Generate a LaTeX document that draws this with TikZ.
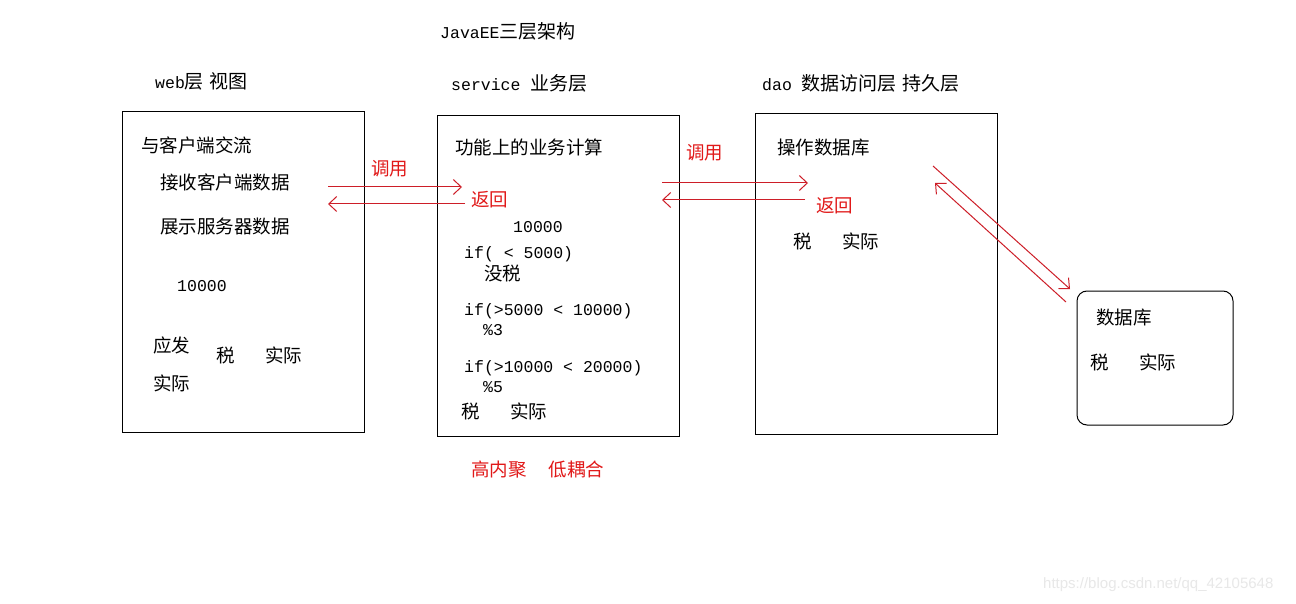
\documentclass[tikz,border=0pt]{standalone}
\usepackage{fontspec}
\setmainfont{Noto Sans CJK SC}
\newfontfamily\monofam{Liberation Mono}
\newfontfamily\wmfont{Liberation Sans}
\usetikzlibrary{arrows.meta}
\definecolor{redline}{RGB}{205,30,40}
\definecolor{redtext}{RGB}{225,25,25}
\definecolor{wmgray}{RGB}{232,232,232}
\tikzset{
  layerbox/.style={draw=black,line width=1pt,minimum width=242pt,minimum height=320pt,inner sep=0pt},
  dbbox/.style={draw=black,line width=1pt,rounded corners=10pt,minimum width=156pt,minimum height=134pt,inner sep=0pt},
  txt/.style={anchor=west,inner sep=0pt,font=\fontsize{18.5}{20}\selectfont},
  htxt/.style={anchor=west,inner sep=0pt,font=\fontsize{19}{20}\selectfont},
  mtxt/.style={anchor=west,inner sep=0pt,font=\fontsize{16.5}{20}\selectfont\monofam},
  rtxt/.style={txt,text=redtext},
  redarrow/.style={draw=redline,line width=1pt,-{Straight Barb[length=8pt,width=15pt,line width=1pt]}}
}
\begin{document}
\begin{tikzpicture}[x=1pt,y=-1pt]
\useasboundingbox[fill=white] (0,0) rectangle (1296,604);

% boxes
\node[layerbox] (web) at (243,272) {};
\node[layerbox] (svc) at (558,276) {};
\node[layerbox] (dao) at (876,274) {};
\node[dbbox] (db) at (1155,358) {};

% headings
\node[htxt] (title) at (440,31) {{\monofam\fontsize{16.5}{20}\selectfont JavaEE}三层架构};
\node[htxt] (hweb) at (155,81) {{\monofam\fontsize{16.5}{20}\selectfont web}层\hspace{6pt}视图};
\node[htxt] (hsvc) at (451,83) {{\monofam\fontsize{16.5}{20}\selectfont service }业务层};
\node[htxt] (hdao) at (762,83) {{\monofam\fontsize{16.5}{20}\selectfont dao }数据访问层\hspace{6pt}持久层};

% web box contents
\node[txt] (w1) at (141,145) {与客户端交流};
\node[txt] (w2) at (160,182) {接收客户端数据};
\node[txt] (w3) at (160,226) {展示服务器数据};
\node[mtxt] (w4) at (177,286) {10000};
\node[txt] (w5) at (153,345) {应发};
\node[txt] (w6) at (153,383) {实际};
\node[txt] (w7) at (216,355) {税};
\node[txt] (w8) at (265,355) {实际};

% service box contents
\node[txt] (s1) at (455,147) {功能上的业务计算};
\node[mtxt] (s2) at (513,227) {10000};
\node[mtxt] (s3) at (464,254) {if( < 5000)};
\node[txt] (s4) at (484,273) {没税};
\node[mtxt] (s5) at (464,311) {if(>5000 < 10000)};
\node[mtxt] (s6) at (483,330) {\%3};
\node[mtxt] (s7) at (464,368) {if(>10000 < 20000)};
\node[mtxt] (s8) at (483,387) {\%5};
\node[txt] (s9) at (461,411) {税};
\node[txt] (s10) at (510,411) {实际};
\node[rtxt] (cohesion) at (471,470) {高内聚\hspace{22pt}低耦合};

% dao box contents
\node[txt] (d1) at (777,148) {操作数据库};
\node[txt] (d2) at (793,241) {税};
\node[txt] (d3) at (842,241) {实际};

% database contents
\node[txt] (b1) at (1096,318) {数据库};
\node[txt] (b2) at (1090,362) {税};
\node[txt] (b3) at (1139,362) {实际};

% red labels
\node[rtxt] (call1) at (371,169) {调用};
\node[rtxt] (ret1) at (471,200) {返回};
\node[rtxt] (call2) at (686,153) {调用};
\node[rtxt] (ret2) at (816,206) {返回};

% arrow endpoints
\coordinate (a1s) at (328,187);
\coordinate (a1e) at (462,187);
\coordinate (a2s) at (465,204);
\coordinate (a2e) at (328,204);
\coordinate (a3s) at (662,183);
\coordinate (a3e) at (808,183);
\coordinate (a4s) at (805,200);
\coordinate (a4e) at (662,200);
\coordinate (a5s) at (933,166);
\coordinate (a5e) at (1070,289);
\coordinate (a6s) at (1066,302);
\coordinate (a6e) at (935,183);

\draw[redarrow] (a1s) -- (a1e);
\draw[redarrow] (a2s) -- (a2e);
\draw[redarrow] (a3s) -- (a3e);
\draw[redarrow] (a4s) -- (a4e);
\draw[redarrow] (a5s) -- (a5e);
\draw[redarrow] (a6s) -- (a6e);

% watermark
\node[anchor=west,inner sep=0pt,text=wmgray,font=\fontsize{15}{16}\selectfont\wmfont] (wm) at (1043,585) {https://blog.csdn.net/qq\_42105648};
\end{tikzpicture}
\end{document}
